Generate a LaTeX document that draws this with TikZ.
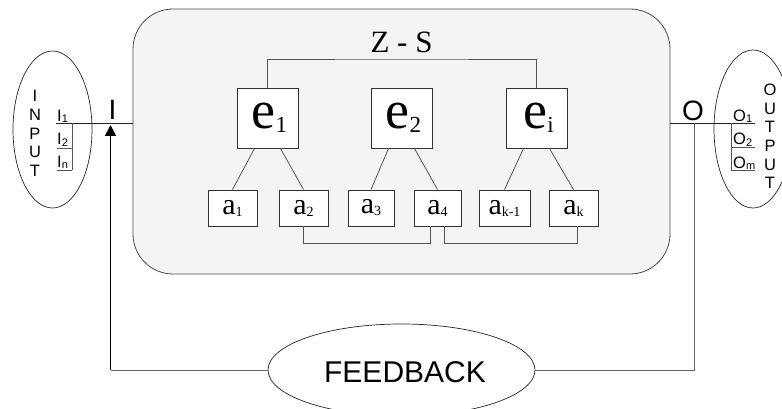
\documentclass[tikz,border=0pt]{standalone}
\usepackage{fontspec}
\setmainfont{Liberation Serif}
\newfontfamily\arialf{Liberation Sans}
\usetikzlibrary{shapes.geometric,arrows.meta}
\definecolor{boxfill}{HTML}{F4F4F4}
\definecolor{lineg}{HTML}{555555}
\newcommand{\fsz}[1]{\fontsize{#1}{#1}\selectfont}
\newcommand{\fszb}[2]{\fontsize{#1}{#2}\selectfont}
\begin{document}
\begin{tikzpicture}[x=1pt,y=-1pt,
  ebox/.style={draw=black!80,line width=0.9pt,fill=white,minimum width=61pt,minimum height=60pt,inner sep=0pt},
  abox/.style={draw=black!80,line width=0.9pt,fill=white,minimum width=49pt,minimum height=36pt,inner sep=0pt},
  conn/.style={draw=lineg,line width=0.8pt},
  wire/.style={draw=black!85,line width=0.8pt},
  oval/.style={ellipse,draw=black!85,line width=0.7pt,inner sep=0pt},
  sublbl/.style={inner sep=0pt,anchor=base west,font=\arialf\fsz{16.5}}
]
\useasboundingbox (0,0) rectangle (782,409);
\fill[white] (0,0) rectangle (782,409);

% main system box
\node[draw=black!70,line width=0.8pt,fill=boxfill,rounded corners=40pt,
      minimum width=537pt,minimum height=265pt,inner sep=0pt] (box) at (401.5,141.5) {};
\node[inner sep=0pt,font=\fsz{31}] (zslbl) at (401.5,42.5) {Z - S};

% element boxes
\node[ebox] (e1) at (267.5,118) {\hspace{4pt}\fsz{54}e\raisebox{-4pt}{\fsz{23}1}};
\node[ebox] (e2) at (401.5,118) {\hspace{4pt}\fsz{54}e\raisebox{-4pt}{\fsz{23}2}};
\node[ebox] (ei) at (536.5,118) {\hspace{4pt}\fsz{54}e\raisebox{-4pt}{\fsz{23}i}};

\coordinate (zs) at (401.5,59);
\draw[conn] (e1.north) |- (zs) -| (ei.north);

% attribute boxes
\node[abox] (a1) at (232.5,208) {\fsz{30}a\raisebox{-2pt}{\fsz{14}1}};
\node[abox] (a2) at (303.5,208) {\fsz{30}a\raisebox{-2pt}{\fsz{14}2}};
\node[abox,minimum width=46pt] (a3) at (371,208) {\fsz{30}a\raisebox{-2pt}{\fsz{14}3}};
\node[abox,minimum width=47pt] (a4) at (437.5,208) {\fsz{30}a\raisebox{-2pt}{\fsz{14}4}};
\node[abox,minimum width=51pt] (ak1) at (504.5,208) {\fsz{30}a\raisebox{-2pt}{\fsz{14}k-1}};
\node[abox] (ak) at (573.5,208) {\fsz{30}a\raisebox{-2pt}{\fsz{14}k}};

\draw[conn] ([xshift=18pt]e1.south west) -- (a1.north);
\draw[conn] ([xshift=-18pt]e1.south east) -- (a2.north);
\draw[conn] ([xshift=18pt]e2.south west) -- (a3.north);
\draw[conn] ([xshift=-18pt]e2.south east) -- (a4.north);
\draw[conn] ([xshift=18pt]ei.south west) -- (ak1.north);
\draw[conn] ([xshift=-18pt]ei.south east) -- (ak.north);

\draw[conn] (a2.south) -- ++(0,17) -| ([xshift=-7.5pt]a4.south);
\draw[conn] ([xshift=6.5pt]a4.south) -- ++(0,17) -| ([xshift=3.5pt]ak.south);

% input
\node[oval,minimum width=79pt,minimum height=157pt] (inell) at (52.5,129.5) {};
\node[inner sep=0pt,align=center,font=\arialf\fszb{16.5}{18.8}] (inlbl) at (35,133.5) {I\\N\\P\\U\\T};
\node[sublbl] (i1) at (57,121.5) {I\raisebox{-1.5pt}{\fsz{11}1}};
\node[sublbl] (i2) at (57,145) {I\raisebox{-1.5pt}{\fsz{11}2}};
\node[sublbl] (in) at (57,167.5) {I\raisebox{-1.5pt}{\fsz{11}n}};
\coordinate (inL) at (56,123.5);
\coordinate (inV) at (72,123.5);
\coordinate (inB) at (72,170);
\draw[wire] (inL) -- (box.west |- inL);
\draw[conn] (inV) -- (inB);
\draw[conn] (i2.west |- 0,148) -- (inV |- 0,148);
\draw[conn] (in.west |- inB) -- (inB);
\node[inner sep=0pt,font=\arialf\fsz{28}] (ilbl) at (112.5,109.5) {I};

% output
\node[oval,minimum width=78pt,minimum height=158pt] (outell) at (753,129) {};
\node[inner sep=0pt,align=center,font=\arialf\fszb{16.5}{18.6}] (outlbl) at (770,136.5) {O\\U\\T\\P\\U\\T};
\node[sublbl] (o1) at (733,121.5) {O\raisebox{-1.5pt}{\fsz{11}1}};
\node[sublbl] (o2) at (733,145) {O\raisebox{-1.5pt}{\fsz{11}2}};
\node[sublbl] (om) at (733,168) {O\raisebox{-1.5pt}{\fsz{11}m}};
\coordinate (outL) at (755,123.5);
\coordinate (outV) at (731,123.5);
\coordinate (outB) at (731,170);
\draw[wire] (box.east |- outL) -- (outL);
\draw[conn] (outV) -- (outB);
\draw[conn] (outV |- 0,147) -- (755,147);
\draw[conn] (outB) -- (755,170);
\node[inner sep=0pt,font=\arialf\fsz{28}] (olbl) at (693,110.5) {O};

% feedback
\node[oval,minimum width=267pt,minimum height=92pt] (fb) at (401.5,370) {};
\node[inner sep=0pt,font=\arialf\fsz{30}] (fblbl) at (405,372) {FEEDBACK};
\coordinate (fbR) at (694,123.5);
\coordinate (fbL) at (110.5,125);
\draw[wire,draw=black!60] (fbR) |- (fb.east);
\draw[draw=black!60,line width=0.8pt] (fb.west) -- (fb.west -| fbL);
\draw[black,line width=1.6pt,-{Triangle[length=11pt,width=11pt]}] (fb.west -| fbL) -- (fbL);
\end{tikzpicture}
\end{document}
